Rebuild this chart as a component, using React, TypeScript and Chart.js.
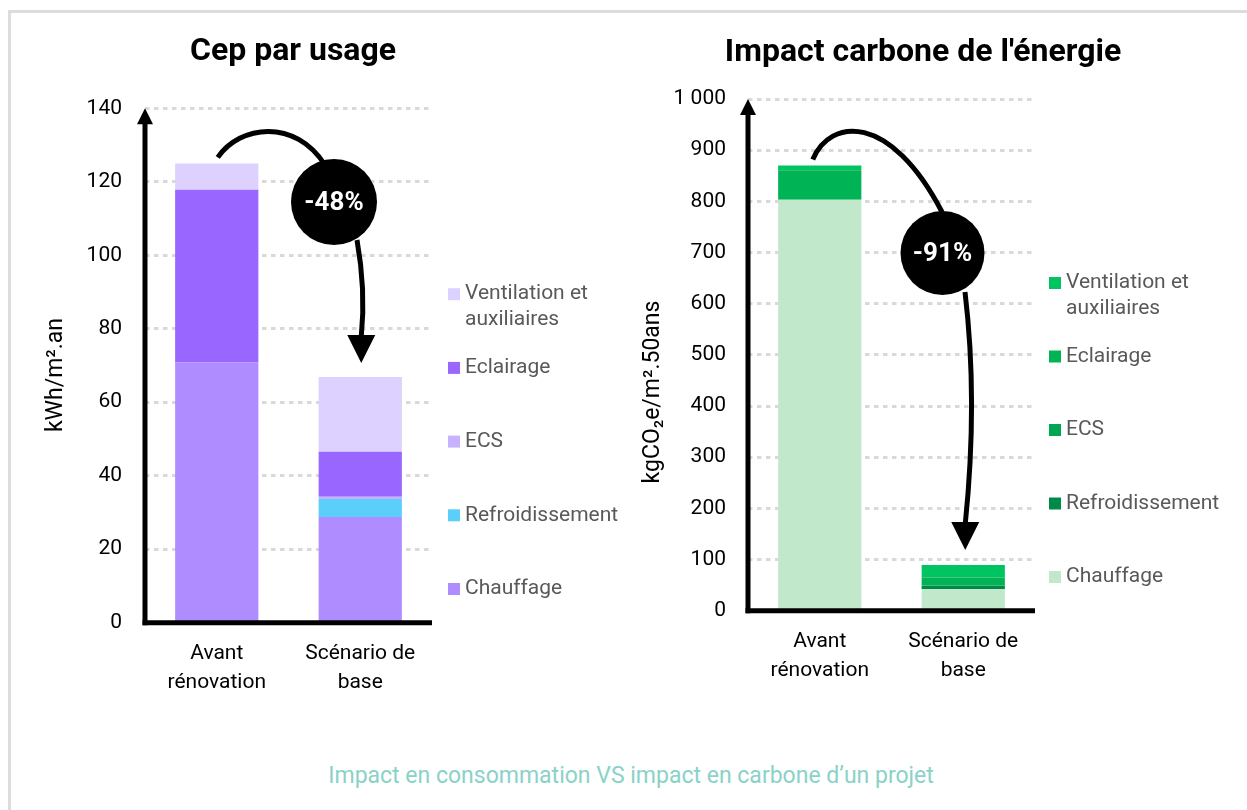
import React, { useEffect, useRef } from 'react';
import { Chart, registerables } from 'chart.js';

Chart.register(...registerables);

const FONT = 'Roboto, "Noto Sans", sans-serif';

// ---------- DATA ----------
const categories = [['Avant', 'rénovation'], ['Scénario de', 'base']];
const usageLabels = ['Chauffage', 'Refroidissement', 'ECS', 'Eclairage', 'Ventilation et auxiliaires'];

// Cep par usage (kWh/m².an)
const cepChauffage = [70.8, 28.8];
const cepRefroidissement = [0, 4.9];
const cepECS = [0, 0.6];
const cepEclairage = [47.0, 12.2];
const cepVentilation = [7.2, 20.4];
const cepTickValues = [0, 20, 40, 60, 80, 100, 120, 140];
const cepReduction = '-48%';

// Impact carbone de l'énergie (kgCO2e/m².50ans)
const carbChauffage = [803, 42.4];
const carbRefroidissement = [0, 6.5];
const carbECS = [0, 0.8];
const carbEclairage = [58, 15.3];
const carbVentilation = [9, 24.3];
const carbTickValues = [0, 100, 200, 300, 400, 500, 600, 700, 800, 900, 1000];
const carbReduction = '-91%';

const cepColors = ['#AF8CFF', '#5BCEFA', '#C6B2FF', '#9966FF', '#DCD1FF'];
const carbColors = ['#C2E8CB', '#008A4A', '#00A651', '#00B355', '#00C462'];

const caption = 'Impact en consommation VS impact en carbone d\u2019un projet';

// ---------- helpers ----------
function fmtThousands(v: number) {
  return String(v).replace(/\B(?=(\d{3})+(?!\d))/g, ' ');
}

type Cfg = {
  series: number[][];
  colors: string[];
  ticks: number[];
  canvasW: number;
  canvasH: number;
  yWidth: number;
  padRight: number;
  padTop: number;
  chartBottom: number;
  tickPad: number;
  title: string;
  titleX: number;
  titleY: number;
  axisTitle: string;
  axisTitleX: number;
  axisTitleY: number;
  legendX: number;
  legendBottomY: number;
  legendStep: number;
  arrow: {
    start: [number, number];
    cp1: [number, number];
    cp2: [number, number];
    enter: [number, number];
    circle: [number, number, number];
    exit: [number, number];
    ctrl: [number, number];
    tip: [number, number];
    label: string;
  };
};

const X_AXIS_H = 110;

function makeDecor(cfg: Cfg) {
  return {
    id: 'decor',
    afterDraw(chart: any) {
      const { ctx, chartArea: a, scales } = chart;
      const xs = scales.x;
      const ys = scales.y;
      ctx.save();
      // axes
      ctx.strokeStyle = '#000';
      ctx.fillStyle = '#000';
      ctx.lineWidth = 5;
      ctx.beginPath();
      ctx.moveTo(a.left, a.bottom + 2.5);
      ctx.lineTo(a.left, a.top + 14);
      ctx.stroke();
      ctx.beginPath();
      ctx.moveTo(a.left - 8, a.top + 16);
      ctx.lineTo(a.left + 8, a.top + 16);
      ctx.lineTo(a.left, a.top);
      ctx.closePath();
      ctx.fill();
      ctx.beginPath();
      ctx.moveTo(a.left - 2.5, a.bottom);
      ctx.lineTo(a.right, a.bottom);
      ctx.stroke();

      // title
      ctx.font = `bold 32px ${FONT}`;
      ctx.textAlign = 'center';
      ctx.textBaseline = 'middle';
      ctx.fillText(cfg.title, cfg.titleX, cfg.titleY);

      // axis title
      ctx.save();
      ctx.translate(cfg.axisTitleX, cfg.axisTitleY);
      ctx.rotate(-Math.PI / 2);
      ctx.font = `23px ${FONT}`;
      ctx.fillStyle = '#000';
      ctx.fillText(cfg.axisTitle, 0, 0);
      ctx.restore();

      // legend (top-to-bottom = last dataset first)
      ctx.font = `21px ${FONT}`;
      ctx.textAlign = 'left';
      ctx.textBaseline = 'middle';
      for (let i = 0; i < usageLabels.length; i++) {
        const yy = cfg.legendBottomY - i * cfg.legendStep;
        ctx.fillStyle = cfg.colors[i];
        ctx.fillRect(cfg.legendX, yy - 6, 12, 12);
        ctx.fillStyle = '#595959';
        const label = usageLabels[i];
        if (label.startsWith('Ventilation')) {
          ctx.fillText('Ventilation et', cfg.legendX + 17, yy);
          ctx.fillText('auxiliaires', cfg.legendX + 17, yy + 26);
        } else {
          ctx.fillText(label, cfg.legendX + 17, yy);
        }
      }

      // curved arrow anchored on bar tops
      const totals = [0, 1].map((i) => cfg.series.reduce((s, d) => s + d[i], 0));
      const ax = xs.getPixelForValue(0);
      const ay = ys.getPixelForValue(totals[0]);
      const bx = xs.getPixelForValue(1);
      const by = ys.getPixelForValue(totals[1]);
      const ar = cfg.arrow;
      const sx = ax + ar.start[0];
      const sy = ay + ar.start[1];
      const tx = bx + ar.tip[0];
      const ty = by + ar.tip[1];
      ctx.strokeStyle = '#000';
      ctx.lineWidth = 5;
      ctx.lineCap = 'butt';
      ctx.beginPath();
      ctx.moveTo(sx, sy);
      ctx.bezierCurveTo(ar.cp1[0], ar.cp1[1], ar.cp2[0], ar.cp2[1], ar.enter[0], ar.enter[1]);
      ctx.stroke();
      ctx.beginPath();
      ctx.moveTo(ar.exit[0], ar.exit[1]);
      ctx.quadraticCurveTo(ar.ctrl[0], ar.ctrl[1], tx, ty - 26);
      ctx.stroke();
      ctx.fillStyle = '#000';
      ctx.beginPath();
      ctx.moveTo(tx - 14, ty - 28);
      ctx.lineTo(tx + 14, ty - 28);
      ctx.lineTo(tx, ty);
      ctx.closePath();
      ctx.fill();
      ctx.beginPath();
      ctx.arc(ar.circle[0], ar.circle[1], ar.circle[2], 0, Math.PI * 2);
      ctx.fill();
      ctx.fillStyle = '#fff';
      ctx.font = `bold 26px ${FONT}`;
      ctx.textAlign = 'center';
      ctx.textBaseline = 'middle';
      ctx.fillText(ar.label, ar.circle[0], ar.circle[1] + 1);
      ctx.restore();
    },
  };
}

function ChartBox({ cfg, left }: { cfg: Cfg; left: number }) {
  const ref = useRef<HTMLCanvasElement>(null);
  useEffect(() => {
    const el = ref.current;
    if (!el) return;
    const tks = cfg.ticks;
    const chart = new Chart(el, {
      type: 'bar',
      data: {
        labels: categories as any,
        datasets: cfg.series.map((d, i) => ({
          label: usageLabels[i],
          data: d,
          backgroundColor: cfg.colors[i],
          borderWidth: 0,
          categoryPercentage: 1,
          barPercentage: 0.58,
        })),
      },
      options: {
        responsive: false,
        animation: false,
        devicePixelRatio: 1,
        layout: {
          padding: {
            left: 0,
            right: cfg.padRight,
            top: cfg.padTop,
            bottom: cfg.canvasH - cfg.chartBottom - X_AXIS_H,
          },
        },
        plugins: {
          legend: { display: false },
          title: { display: false },
          tooltip: { enabled: false },
        },
        scales: {
          x: {
            stacked: true,
            grid: { display: false, drawTicks: false },
            border: { display: false },
            ticks: {
              color: '#000',
              font: { family: FONT, size: 21, lineHeight: 1.38 },
              padding: 17,
              maxRotation: 0,
              autoSkip: false,
            },
            afterFit: (s: any) => {
              s.height = X_AXIS_H;
            },
          },
          y: {
            stacked: true,
            min: tks[0],
            max: tks[tks.length - 1],
            grid: {
              drawTicks: false,
              lineWidth: 3,
              color: (c: any) => (c.tick && c.tick.value === 0 ? 'rgba(0,0,0,0)' : '#D9D9D9'),
            },
            border: { display: false, dash: [4.5, 4.5] },
            ticks: {
              stepSize: tks[1] - tks[0],
              color: '#000',
              font: { family: FONT, size: 21 },
              padding: cfg.tickPad,
              callback: (v: any) => fmtThousands(Number(v)),
            },
            afterFit: (s: any) => {
              s.width = cfg.yWidth;
            },
          },
        },
      },
      plugins: [makeDecor(cfg)],
    } as any);
    return () => chart.destroy();
  }, [cfg]);
  return (
    <canvas
      ref={ref}
      width={cfg.canvasW}
      height={cfg.canvasH}
      style={{ position: 'absolute', left, top: 0, width: cfg.canvasW, height: cfg.canvasH }}
    />
  );
}

const cepCfg: Cfg = {
  series: [cepChauffage, cepRefroidissement, cepECS, cepEclairage, cepVentilation],
  colors: cepColors,
  ticks: cepTickValues,
  canvasW: 623,
  canvasH: 760,
  yWidth: 145,
  padRight: 191,
  padTop: 108.3,
  chartBottom: 622.7,
  tickPad: 23,
  title: 'Cep par usage',
  titleX: 293,
  titleY: 52,
  axisTitle: 'kWh/m\u00B2.an',
  axisTitleX: 56,
  axisTitleY: 375,
  legendX: 448,
  legendBottomY: 589,
  legendStep: 73.7,
  arrow: {
    start: [1, -6],
    cp1: [240, 125],
    cp2: [295, 118],
    enter: [325, 165],
    circle: [334, 202, 43],
    exit: [357, 240],
    ctrl: [366, 290],
    tip: [1, -14],
    label: cepReduction,
  },
};

const carbCfg: Cfg = {
  series: [carbChauffage, carbRefroidissement, carbECS, carbEclairage, carbVentilation],
  colors: carbColors,
  ticks: carbTickValues,
  canvasW: 624,
  canvasH: 760,
  yWidth: 125,
  padRight: 212,
  padTop: 99,
  chartBottom: 610.7,
  tickPad: 22,
  title: "Impact carbone de l'énergie",
  titleX: 300,
  titleY: 53,
  axisTitle: 'kgCO\u2082e/m\u00B2.50ans',
  axisTitleX: 30,
  axisTitleY: 392,
  legendX: 426,
  legendBottomY: 577,
  legendStep: 73.5,
  arrow: {
    start: [-7, -6],
    cp1: [207, 118],
    cp2: [267, 112],
    enter: [319, 212],
    circle: [319.5, 253, 42],
    exit: [342, 292],
    ctrl: [355, 400],
    tip: [2, -15],
    label: carbReduction,
  },
};

export default function App() {
  return (
    <div
      style={{
        position: 'absolute',
        left: 0,
        top: 0,
        width: 1247,
        height: 810,
        overflow: 'hidden',
        background: '#fff',
      }}
    >
      <div
        style={{
          position: 'absolute',
          left: 8,
          top: 10,
          width: 1300,
          height: 900,
          border: '3px solid #DCDCDC',
          boxSizing: 'border-box',
        }}
      />
      <ChartBox cfg={cepCfg} left={0} />
      <ChartBox cfg={carbCfg} left={623} />
      <div
        style={{
          position: 'absolute',
          left: 0,
          top: 762,
          width: 1262,
          textAlign: 'center',
          fontFamily: FONT,
          fontSize: 23,
          lineHeight: '28px',
          color: '#8AD2C8',
        }}
      >
        {caption}
      </div>
    </div>
  );
}
